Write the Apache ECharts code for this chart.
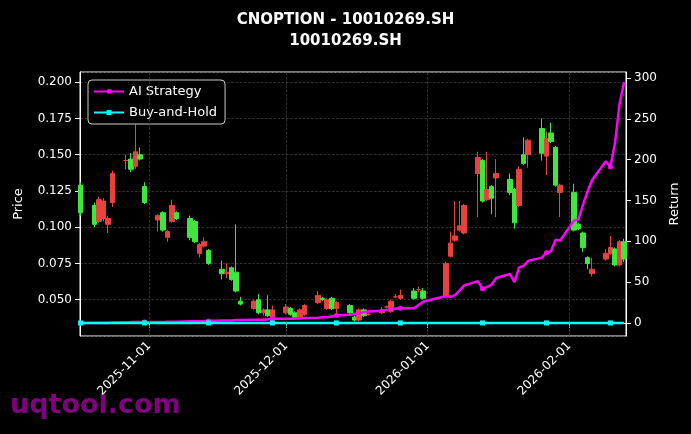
<!DOCTYPE html>
<html>
<head>
<meta charset="utf-8">
<script src="https://cdn.jsdelivr.net/npm/echarts@6/dist/echarts.min.js"></script>
<style>html,body{margin:0;padding:0;background:#000;}#chart{width:691px;height:434px;}</style>
</head>
<body>
<div id="chart"></div>
<script>
// trading days
const dates = [
  '2025-10-17','2025-10-20','2025-10-21','2025-10-22','2025-10-23','2025-10-24','2025-10-27','2025-10-28','2025-10-29','2025-10-30','2025-10-31',
  '2025-11-03','2025-11-04','2025-11-05','2025-11-06','2025-11-07','2025-11-10','2025-11-11','2025-11-12','2025-11-13','2025-11-14',
  '2025-11-17','2025-11-18','2025-11-19','2025-11-20','2025-11-21','2025-11-24','2025-11-25','2025-11-26','2025-11-27','2025-11-28',
  '2025-12-01','2025-12-02','2025-12-03','2025-12-04','2025-12-05','2025-12-08','2025-12-09','2025-12-10','2025-12-11','2025-12-12',
  '2025-12-15','2025-12-16','2025-12-17','2025-12-18','2025-12-19','2025-12-22','2025-12-23','2025-12-24','2025-12-25','2025-12-26',
  '2025-12-29','2025-12-30','2025-12-31',
  '2026-01-05','2026-01-06','2026-01-07','2026-01-08','2026-01-09','2026-01-12','2026-01-13','2026-01-14','2026-01-15','2026-01-16',
  '2026-01-19','2026-01-20','2026-01-21','2026-01-22','2026-01-23','2026-01-26','2026-01-27','2026-01-28','2026-01-29','2026-01-30',
  '2026-02-02','2026-02-03','2026-02-04','2026-02-05','2026-02-06','2026-02-09','2026-02-10','2026-02-11','2026-02-12','2026-02-13'
];
// [open, close, low, high]
const ohlc = [
  [0.129,0.110,0.108,0.131],[0.115,0.102,0.100,0.117],[0.104,0.119,0.103,0.121],[0.106,0.118,0.104,0.120],[0.102,0.106,0.096,0.108],[0.117,0.137,0.114,0.139],
  [0.146,0.146,0.140,0.150],[0.147,0.140,0.138,0.151],[0.142,0.152,0.140,0.179],[0.150,0.147,0.146,0.155],[0.128,0.117,0.116,0.131],
  [0.105,0.108,0.097,0.109],[0.110,0.098,0.097,0.111],[0.093,0.097,0.090,0.098],[0.104,0.115,0.103,0.119],[0.110,0.106,0.105,0.111],
  [0.106,0.093,0.091,0.108],[0.104,0.090,0.089,0.105],[0.082,0.088,0.079,0.089],[0.087,0.090,0.086,0.093],[0.084,0.075,0.074,0.085],
  [0.071,0.068,0.064,0.077],[0.068,0.069,0.065,0.075],[0.072,0.064,0.063,0.073],[0.069,0.056,0.055,0.102],[0.049,0.047,0.046,0.052],
  [0.044,0.049,0.043,0.050],[0.050,0.041,0.040,0.054],[0.041,0.043,0.039,0.044],[0.043,0.039,0.038,0.053],[0.038,0.043,0.037,0.046],
  [0.041,0.045,0.040,0.047],[0.044,0.040,0.039,0.045],[0.041,0.038,0.037,0.042],[0.038,0.043,0.037,0.044],[0.040,0.046,0.039,0.047],
  [0.048,0.053,0.047,0.056],[0.051,0.050,0.049,0.052],[0.044,0.050,0.043,0.051],[0.051,0.044,0.043,0.052],[0.044,0.048,0.040,0.049],
  [0.046,0.041,0.040,0.047],[0.038,0.036,0.035,0.039],[0.036,0.043,0.035,0.044],[0.043,0.039,0.038,0.044],[0.040,0.040,0.039,0.041],
  [0.041,0.043,0.040,0.045],[0.045,0.045,0.044,0.046],[0.042,0.049,0.041,0.050],[0.052,0.052,0.051,0.054],[0.051,0.053,0.050,0.057],
  [0.056,0.051,0.050,0.058],[0.057,0.057,0.055,0.059],[0.056,0.051,0.050,0.058],
  [0.052,0.075,0.051,0.076],[0.080,0.089,0.079,0.097],[0.091,0.094,0.090,0.118],[0.098,0.101,0.097,0.118],[0.096,0.115,0.095,0.116],
  [0.137,0.148,0.107,0.152],[0.146,0.118,0.117,0.147],[0.119,0.126,0.118,0.152],[0.128,0.120,0.109,0.129],[0.134,0.137,0.107,0.147],
  [0.133,0.124,0.122,0.137],[0.126,0.103,0.099,0.127],[0.115,0.140,0.114,0.142],[0.150,0.144,0.143,0.162],[0.150,0.160,0.141,0.161],
  [0.168,0.151,0.146,0.175],[0.149,0.161,0.136,0.166],[0.165,0.159,0.158,0.172],[0.155,0.129,0.128,0.156],[0.124,0.129,0.107,0.130],
  [0.124,0.098,0.097,0.130],[0.102,0.099,0.098,0.103],[0.096,0.086,0.083,0.097],[0.079,0.075,0.071,0.080],[0.068,0.071,0.066,0.079],
  [0.078,0.082,0.077,0.085],[0.082,0.086,0.081,0.094],[0.085,0.074,0.073,0.086],[0.074,0.090,0.073,0.091],[0.090,0.078,0.076,0.092]
];
const aiReturn = [
  0,0,0,0,0,0.5,0.5,1,1,1,1,
  1,1,1.5,1.5,1.5,2,2,2,2.5,2.5,
  3,3,3,3.5,3.5,4,4,4,4.5,5,
  5,5,5.5,5.5,6,6.5,7,7,8,9,
  10,11,12,13,14,15,16,17,17.5,18,
  18,22,26,
  33,32,34,40,46,51,42,44,47,55,
  60,50,68,70,76,80,86,88,102,101,
  125,127,145,161,175,198,191,220,268,295
];
const bhReturn = [
  0,0,0,0,0,0,0,0,0,0,0,
  0,0,0,0,0,0,0,0,0,0,
  0,0,0,0,0,0,0,0,0,0,
  0,0,0,0,0,0,0,0,0,0,
  0,0,0,0,0,0,0,0,0,0,
  0,0,0,
  0,0,0,0,0,0,0,0,0,0,
  0,0,0,0,0,0,0,0,0,0,
  0,0,0,0,0,0,0,0,0,0
];
const monthTicks = ['2025-11-01','2025-12-01','2026-01-01','2026-02-01'];
const returnTicks = [0, 50, 100, 150, 200, 250, 300];

const chart = echarts.init(document.getElementById('chart'));
const ts = d => Date.UTC(+d.slice(0, 4), +d.slice(5, 7) - 1, +d.slice(8, 10));
const withMarks = arr => arr.map((v, i) => ({
  value: [ts(dates[i]), v],
  symbol: i % 10 === 0 ? undefined : 'none'
}));
const monthTs = monthTicks.map(ts);
const fmtDate = v => {
  const d = new Date(v);
  return d.getUTCFullYear() + '-' + String(d.getUTCMonth() + 1).padStart(2, '0') + '-' + String(d.getUTCDate()).padStart(2, '0');
};

chart.setOption({
  backgroundColor: '#000',
  animation: false,
  textStyle: {fontFamily: 'DejaVu Sans'},
  title: {
    text: 'CNOPTION - 10010269.SH\n10010269.SH',
    left: 'center', top: 5,
    textStyle: {color: '#fff', fontSize: 15, fontWeight: 'bold', lineHeight: 21}
  },
  legend: {
    left: 88, top: 80, orient: 'vertical', itemGap: 8, itemWidth: 30, itemHeight: 6,
    backgroundColor: '#000', borderColor: '#ccc', borderWidth: 1, borderRadius: 4,
    padding: [5, 8, 5, 5],
    textStyle: {color: '#fff', fontSize: 13},
    data: ['AI Strategy', 'Buy-and-Hold']
  },
  grid: {left: 80, right: 65, top: 72, bottom: 98, show: true, borderColor: '#fff', borderWidth: 1},
  xAxis: {
    type: 'value',
    min: ts('2025-10-17') - 3 * 3600e3,
    max: ts('2026-02-13') + 10 * 3600e3,
    axisLine: {lineStyle: {color: '#fff'}},
    axisTick: {customValues: monthTs, lineStyle: {color: '#fff'}},
    axisLabel: {customValues: monthTs, rotate: 45, color: '#fff', fontSize: 12, formatter: fmtDate},
    splitLine: {show: false}
  },
  yAxis: [{
    type: 'value', min: 0.025, max: 0.207, interval: 0.025,
    name: 'Price', nameLocation: 'middle', nameGap: 55,
    nameTextStyle: {color: '#fff', fontSize: 13},
    axisLine: {show: true, lineStyle: {color: '#fff'}},
    axisTick: {show: true, lineStyle: {color: '#fff'}},
    axisLabel: {color: '#fff', fontSize: 12, showMinLabel: false, showMaxLabel: false, formatter: v => v.toFixed(3)},
    splitLine: {show: true, lineStyle: {color: '#444', type: 'dashed', width: 0.7}}
  }, {
    type: 'value', min: -16, max: 307.4,
    name: 'Return', nameLocation: 'middle', nameGap: 42,
    nameTextStyle: {color: '#fff', fontSize: 13},
    axisLine: {show: true, lineStyle: {color: '#fff'}},
    axisTick: {show: true, customValues: returnTicks, lineStyle: {color: '#fff'}},
    axisLabel: {color: '#fff', fontSize: 12, customValues: returnTicks},
    splitLine: {show: false}
  }],
  graphic: [{
    type: 'text', left: 10, top: 392,
    style: {text: 'uqtool.com', fill: '#800080', font: 'bold 27px "DejaVu Sans"'}
  }],
  series: [{
    name: 'Price', type: 'candlestick', yAxisIndex: 0, barWidth: 5,
    data: ohlc.map((d, i) => [ts(dates[i]), ...d]),
    encode: {x: 0, y: [1, 2, 3, 4]},
    itemStyle: {color: '#e8423f', color0: '#3fe63f', borderColor: '#e8423f', borderColor0: '#3fe63f', borderWidth: 1},
    markLine: {
      silent: true, symbol: 'none', label: {show: false},
      lineStyle: {color: '#444', type: 'dashed', width: 0.7},
      data: monthTs.map(t => ({xAxis: t}))
    }
  }, {
    name: 'AI Strategy', type: 'line', yAxisIndex: 1, symbol: 'circle',
    data: withMarks(aiReturn), symbolSize: 5, showAllSymbol: true,
    lineStyle: {color: '#ff00ff', width: 2.5}, itemStyle: {color: '#ff00ff'}
  }, {
    name: 'Buy-and-Hold', type: 'line', yAxisIndex: 1, symbol: 'rect',
    data: withMarks(bhReturn), symbolSize: 5, showAllSymbol: true,
    lineStyle: {color: '#00ffff', width: 2.5}, itemStyle: {color: '#00ffff'}
  }]
});
</script>
</body>
</html>
